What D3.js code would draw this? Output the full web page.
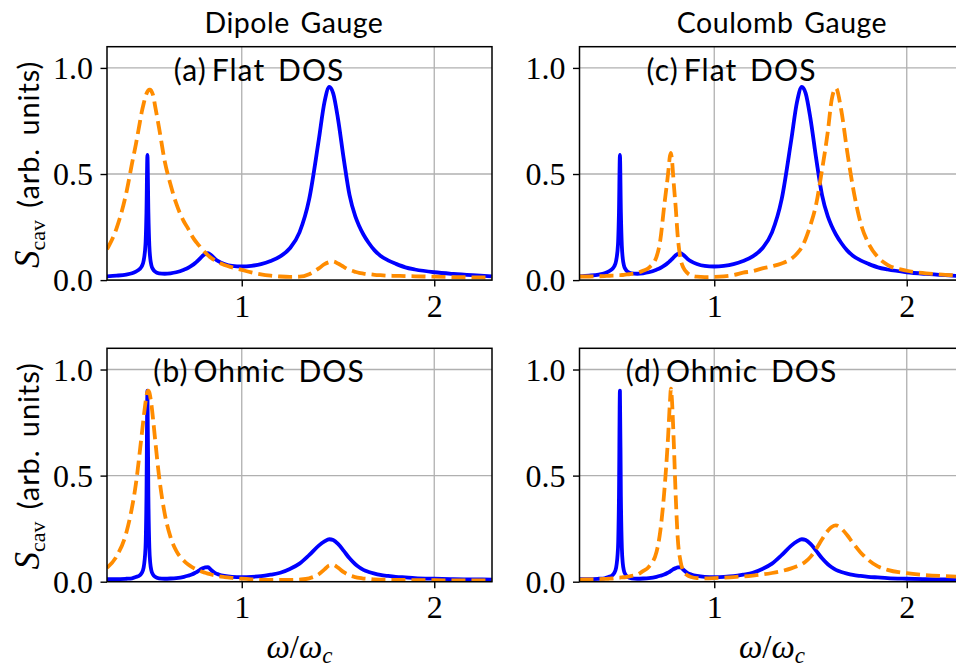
<!DOCTYPE html>
<html>
<head>
<meta charset="utf-8">
<script src="https://cdn.jsdelivr.net/npm/d3@7"></script>
<style>
  html, body { margin: 0; padding: 0; background: #ffffff; }
  svg { display: block; }
</style>
</head>
<body>
<svg id="chart" width="956" height="667"></svg>
<script>
// ---------------- data ----------------
const omega = [0.30, 0.35, 0.40, 0.43, 0.45, 0.47, 0.48, 0.49, 0.50, 0.505,
  0.51, 0.515, 0.52, 0.525, 0.53, 0.54, 0.55, 0.57, 0.60, 0.63,
  0.66, 0.70, 0.72, 0.74, 0.76, 0.77, 0.775, 0.78, 0.79, 0.80,
  0.81, 0.825, 0.84, 0.86, 0.88, 0.91, 0.95, 1.00, 1.05, 1.10,
  1.15, 1.20, 1.25, 1.30, 1.35, 1.40, 1.43, 1.455, 1.475, 1.50,
  1.53, 1.56, 1.59, 1.61, 1.632, 1.66, 1.69, 1.72, 1.76, 1.80,
  1.85, 1.90, 2.00, 2.10, 2.20, 2.30];

// blue solid, flat DOS (same in both gauges)
const blueFlat = [0.018, 0.021, 0.026, 0.032, 0.040, 0.052, 0.064, 0.090, 0.17, 0.32,
  0.59, 0.32, 0.16, 0.10, 0.072, 0.050, 0.040, 0.032, 0.030, 0.032,
  0.037, 0.049, 0.057, 0.068, 0.082, 0.090, 0.094, 0.099, 0.108, 0.117,
  0.123, 0.127, 0.118, 0.101, 0.088, 0.076, 0.067, 0.064, 0.067, 0.075,
  0.090, 0.112, 0.150, 0.225, 0.38, 0.66, 0.84, 0.91, 0.88, 0.76,
  0.57, 0.40, 0.30, 0.255, 0.215, 0.175, 0.140, 0.115, 0.093, 0.077,
  0.060, 0.050, 0.037, 0.029, 0.023, 0.018];

// orange dashed, dipole gauge, flat DOS
const orangeDipoleFlat = [0.145, 0.245, 0.41, 0.55, 0.64, 0.74, 0.79, 0.83, 0.865, 0.878,
  0.888, 0.895, 0.898, 0.898, 0.892, 0.87, 0.82, 0.72, 0.56, 0.45,
  0.36, 0.275, 0.245, 0.21, 0.183, 0.172, 0.166, 0.161, 0.150, 0.140,
  0.130, 0.117, 0.105, 0.093, 0.083, 0.071, 0.060, 0.048, 0.036, 0.027,
  0.021, 0.017, 0.015, 0.016, 0.028, 0.055, 0.075, 0.085, 0.088, 0.078,
  0.062, 0.048, 0.039, 0.034, 0.031, 0.028, 0.025, 0.023, 0.021, 0.020,
  0.019, 0.018, 0.016, 0.014, 0.013, 0.012];

// orange dashed, Coulomb gauge, flat DOS
const orangeCoulombFlat = [0.017, 0.017, 0.018, 0.019, 0.020, 0.021, 0.021, 0.022, 0.022, 0.023,
  0.023, 0.023, 0.024, 0.024, 0.025, 0.026, 0.027, 0.029, 0.034, 0.044,
  0.058, 0.11, 0.19, 0.35, 0.50, 0.585, 0.60, 0.57, 0.45, 0.34,
  0.21, 0.10, 0.058, 0.034, 0.022, 0.016, 0.014, 0.015, 0.018, 0.024,
  0.035, 0.042, 0.055, 0.065, 0.078, 0.10, 0.125, 0.155, 0.195, 0.26,
  0.36, 0.52, 0.70, 0.85, 0.905, 0.80, 0.61, 0.44, 0.27, 0.175,
  0.108, 0.072, 0.044, 0.032, 0.025, 0.020];

// blue solid, Ohmic DOS (same in both gauges)
const blueOhmic = [0.012, 0.012, 0.014, 0.016, 0.022, 0.030, 0.040, 0.065, 0.16, 0.40,
  0.90, 0.40, 0.16, 0.085, 0.055, 0.032, 0.023, 0.016, 0.014, 0.015,
  0.017, 0.023, 0.028, 0.034, 0.043, 0.048, 0.051, 0.054, 0.060, 0.064,
  0.067, 0.068, 0.056, 0.042, 0.034, 0.027, 0.023, 0.022, 0.023, 0.026,
  0.033, 0.042, 0.060, 0.085, 0.125, 0.17, 0.19, 0.200, 0.196, 0.178,
  0.145, 0.110, 0.082, 0.068, 0.056, 0.046, 0.038, 0.032, 0.027, 0.023,
  0.020, 0.017, 0.014, 0.012, 0.011, 0.010];

// orange dashed, dipole gauge, Ohmic DOS
const orangeDipoleOhmic = [0.065, 0.12, 0.23, 0.35, 0.46, 0.61, 0.69, 0.77, 0.845, 0.875,
  0.895, 0.90, 0.893, 0.87, 0.84, 0.76, 0.67, 0.50, 0.32, 0.21,
  0.145, 0.098, 0.082, 0.070, 0.060, 0.056, 0.054, 0.052, 0.048, 0.045,
  0.042, 0.038, 0.034, 0.030, 0.026, 0.022, 0.018, 0.014, 0.011, 0.009,
  0.008, 0.008, 0.008, 0.010, 0.016, 0.035, 0.058, 0.077, 0.079, 0.066,
  0.045, 0.030, 0.022, 0.018, 0.015, 0.013, 0.011, 0.010, 0.009, 0.008,
  0.008, 0.007, 0.007, 0.006, 0.006, 0.006];

// orange dashed, Coulomb gauge, Ohmic DOS
const orangeCoulombOhmic = [0.010, 0.011, 0.012, 0.013, 0.014, 0.015, 0.016, 0.017, 0.018, 0.019,
  0.019, 0.020, 0.020, 0.021, 0.021, 0.022, 0.024, 0.027, 0.033, 0.050,
  0.070, 0.14, 0.24, 0.42, 0.68, 0.85, 0.91, 0.86, 0.65, 0.40,
  0.21, 0.095, 0.050, 0.030, 0.022, 0.017, 0.016, 0.017, 0.019, 0.022,
  0.025, 0.029, 0.034, 0.041, 0.050, 0.063, 0.073, 0.083, 0.095, 0.117,
  0.155, 0.20, 0.240, 0.258, 0.265, 0.250, 0.220, 0.183, 0.138, 0.103,
  0.072, 0.056, 0.040, 0.031, 0.026, 0.022];

const xTicks = [1, 2];
const xTickLabels = ["1", "2"];
const yTicks = [0, 0.5, 1.0];
const yTickLabels = ["0.0", "0.5", "1.0"];
const columnTitles = ["Dipole Gauge", "Coulomb Gauge"];
const panelLabels = ["(a)\u2009Flat DOS", "(b)\u2009Ohmic DOS", "(c)\u2009Flat DOS", "(d)\u2009Ohmic DOS"];
const xDomain = [0.3, 2.3];
const yDomain = [0, 1.1];

// ---------------- layout ----------------
const svg = d3.select("#chart");
const pw = 385, ph = 233.4;
const BLUE = "#0000ff", ORANGE = "#ff8c00";
const SANS = "Lato, 'DejaVu Sans', sans-serif";
const SERIF = "'Liberation Serif', 'DejaVu Serif', serif";

const panels = [
  {left: 107,   top: 46.7,  label: panelLabels[0], blue: blueFlat,  orange: orangeDipoleFlat,   ylab: true,  xlab: false},
  {left: 107,   top: 348.3, label: panelLabels[1], blue: blueOhmic, orange: orangeDipoleOhmic,  ylab: true,  xlab: true},
  {left: 579.5, top: 46.7,  label: panelLabels[2], blue: blueFlat,  orange: orangeCoulombFlat,  ylab: false, xlab: false},
  {left: 579.5, top: 348.3, label: panelLabels[3], blue: blueOhmic, orange: orangeCoulombOhmic, ylab: false, xlab: true}
];

panels.forEach((p, i) => {
  const g = svg.append("g").attr("transform", `translate(${p.left},${p.top})`);
  const x = d3.scaleLinear().domain(xDomain).range([0, pw]);
  const y = d3.scaleLinear().domain(yDomain).range([ph, 0]);

  const clipId = "clip" + i;
  g.append("clipPath").attr("id", clipId)
    .append("rect").attr("x", 0).attr("y", 0).attr("width", pw).attr("height", ph);

  // grid
  g.append("g").selectAll("line").data(xTicks).join("line")
    .attr("x1", d => x(d)).attr("x2", d => x(d)).attr("y1", 0).attr("y2", ph)
    .attr("stroke", "#b0b0b0").attr("stroke-width", 1.3);
  g.append("g").selectAll("line").data(yTicks).join("line")
    .attr("x1", 0).attr("x2", pw).attr("y1", d => y(d)).attr("y2", d => y(d))
    .attr("stroke", "#b0b0b0").attr("stroke-width", 1.3);

  // curves
  const line = d3.line().x(d => x(d[0])).y(d => y(d[1])).curve(d3.curveMonotoneX);
  const plot = g.append("g").attr("clip-path", `url(#${clipId})`);
  plot.append("path").datum(omega.map((w, k) => [w, p.blue[k]]))
    .attr("d", line).attr("fill", "none").attr("stroke", BLUE)
    .attr("stroke-width", 3.8).attr("stroke-linejoin", "round").attr("stroke-linecap", "butt");
  plot.append("path").datum(omega.map((w, k) => [w, p.orange[k]]))
    .attr("d", line).attr("fill", "none").attr("stroke", ORANGE)
    .attr("stroke-width", 3.8).attr("stroke-dasharray", "14,6").attr("stroke-linejoin", "round");

  // axes
  const xAxis = d3.axisBottom(x).tickValues(xTicks).tickFormat((d, k) => xTickLabels[k])
    .tickSize(6.5).tickSizeOuter(0);
  const yAxis = d3.axisLeft(y).tickValues(yTicks).tickFormat((d, k) => yTickLabels[k])
    .tickSize(6.5).tickSizeOuter(0);
  const gx = g.append("g").attr("transform", `translate(0,${ph})`).call(xAxis);
  const gy = g.append("g").call(yAxis);
  [gx, gy].forEach(a => {
    a.select(".domain").remove();
    a.selectAll(".tick line").attr("stroke", "#000").attr("stroke-width", 1.4);
    a.selectAll(".tick text").attr("font-family", SERIF).attr("font-size", 32).attr("fill", "#000");
  });
  gx.selectAll(".tick text").attr("y", 14).attr("dy", "0.71em");
  gy.selectAll(".tick text").attr("x", -14).attr("dy", "0.34em");

  // frame
  g.append("rect").attr("x", 0).attr("y", 0).attr("width", pw).attr("height", ph)
    .attr("fill", "none").attr("stroke", "#000").attr("stroke-width", 1.5);

  // panel label
  g.append("text").attr("x", x(1.09)).attr("y", y(0.94))
    .attr("text-anchor", "middle").attr("font-family", SANS).attr("font-size", 30)
    .attr("letter-spacing", 1.1).attr("word-spacing", 4)
    .attr("fill", "#000").text(p.label);

  // y label
  if (p.ylab) {
    const t = svg.append("text")
      .attr("transform", `translate(39,${p.top + ph / 2 + 1}) rotate(-90)`)
      .attr("text-anchor", "middle").attr("fill", "#000");
    t.append("tspan").attr("font-family", SERIF).attr("font-style", "italic").attr("font-size", 35).text("S");
    t.append("tspan").attr("font-family", SERIF).attr("font-size", 22).attr("dy", 6).text("cav");
    t.append("tspan").attr("font-family", SANS).attr("font-size", 29).attr("dy", -6)
      .attr("letter-spacing", 0.9).attr("word-spacing", 4).text("\u00a0(arb. units)");
  }
  // x label
  if (p.xlab) {
    const t = svg.append("text")
      .attr("x", p.left + x(1.3)).attr("y", 658)
      .attr("text-anchor", "middle").attr("fill", "#000").attr("font-family", SERIF);
    t.append("tspan").attr("font-style", "italic").attr("font-size", 33).text("\u03c9");
    t.append("tspan").attr("font-size", 33).text("/");
    t.append("tspan").attr("font-style", "italic").attr("font-size", 33).text("\u03c9");
    t.append("tspan").attr("font-style", "italic").attr("font-size", 23).attr("dy", 5).text("c");
  }
});

// column titles
svg.append("text").attr("x", 294).attr("y", 33).attr("text-anchor", "middle")
  .attr("font-family", SANS).attr("font-size", 28.5).attr("letter-spacing", 0.5).attr("word-spacing", 3)
  .attr("fill", "#000").text(columnTitles[0]);
svg.append("text").attr("x", 782).attr("y", 33).attr("text-anchor", "middle")
  .attr("font-family", SANS).attr("font-size", 28.5).attr("letter-spacing", 0.5).attr("word-spacing", 3)
  .attr("fill", "#000").text(columnTitles[1]);
</script>
</body>
</html>
